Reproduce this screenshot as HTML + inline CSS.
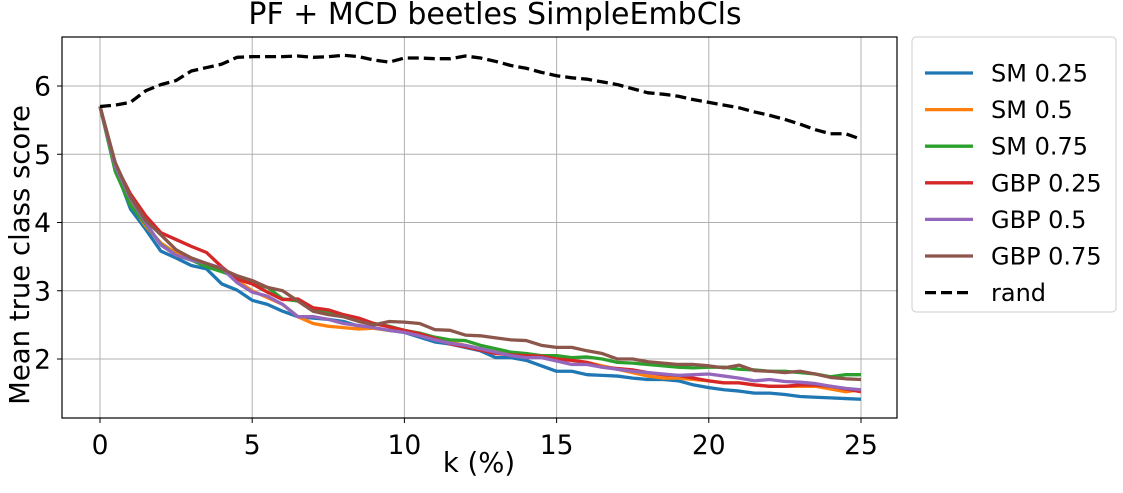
<!DOCTYPE html>
<html><head><meta charset="utf-8"><style>
body{margin:0;background:#fff;width:1123px;height:488px;overflow:hidden}
svg text{font-family:"DejaVu Sans","Liberation Sans",sans-serif;fill:#000}
</style></head><body>
<svg id="c" width="1123" height="488"></svg>
<script>
const ks=[];for(let i=0;i<=50;i++)ks.push(i*0.5);
const seriesNames=["SM 0.25","SM 0.5","SM 0.75","GBP 0.25","GBP 0.5","GBP 0.75","rand"];
const colors=["#1f77b4","#ff7f0e","#2ca02c","#d62728","#9467bd","#8c564b","#000"];
const sm025=[5.7,4.8,4.2,3.9,3.58,3.48,3.37,3.32,3.1,3.01,2.86,2.8,2.7,2.62,2.6,2.58,2.55,2.48,2.45,2.42,2.39,2.32,2.25,2.22,2.17,2.12,2.02,2.02,1.98,1.9,1.82,1.82,1.77,1.76,1.75,1.72,1.7,1.7,1.68,1.62,1.58,1.55,1.53,1.5,1.5,1.48,1.45,1.44,1.43,1.42,1.41];
const sm05=[5.7,4.82,4.28,3.95,3.7,3.55,3.45,3.38,3.32,3.15,3.0,2.9,2.8,2.62,2.52,2.48,2.46,2.44,2.45,2.42,2.4,2.35,2.3,2.25,2.2,2.15,2.1,2.08,2.05,2.02,2.0,1.98,1.95,1.9,1.85,1.8,1.75,1.72,1.72,1.7,1.68,1.65,1.65,1.62,1.6,1.6,1.6,1.6,1.56,1.52,1.55];
const sm075=[5.7,4.75,4.25,3.98,3.68,3.52,3.45,3.35,3.28,3.2,3.1,3.05,2.88,2.85,2.72,2.68,2.62,2.56,2.52,2.48,2.42,2.38,2.32,2.28,2.27,2.2,2.15,2.1,2.08,2.05,2.05,2.02,2.03,2.0,1.95,1.94,1.92,1.9,1.88,1.87,1.88,1.88,1.85,1.84,1.82,1.82,1.8,1.78,1.74,1.77,1.77];
const gbp025=[5.7,4.85,4.42,4.1,3.85,3.75,3.65,3.56,3.35,3.17,3.1,2.98,2.87,2.88,2.75,2.72,2.65,2.6,2.52,2.47,2.42,2.37,2.3,2.22,2.18,2.13,2.08,2.06,2.05,2.04,2.0,1.98,1.95,1.88,1.86,1.84,1.8,1.77,1.76,1.72,1.68,1.65,1.65,1.62,1.6,1.6,1.62,1.62,1.6,1.56,1.52];
const gbp05=[5.7,4.83,4.35,4.0,3.67,3.52,3.45,3.4,3.33,3.12,2.98,2.92,2.8,2.62,2.62,2.58,2.52,2.49,2.46,2.42,2.39,2.34,2.28,2.23,2.2,2.15,2.1,2.05,2.02,2.02,1.97,1.92,1.92,1.88,1.85,1.82,1.8,1.78,1.76,1.77,1.78,1.75,1.72,1.68,1.7,1.67,1.66,1.64,1.6,1.57,1.55];
const gbp075=[5.7,4.88,4.38,4.03,3.82,3.6,3.48,3.4,3.32,3.22,3.15,3.05,3.0,2.85,2.7,2.65,2.62,2.55,2.5,2.55,2.54,2.52,2.43,2.42,2.35,2.34,2.31,2.28,2.27,2.2,2.17,2.17,2.12,2.08,2.0,2.0,1.96,1.94,1.92,1.92,1.9,1.87,1.91,1.83,1.82,1.8,1.82,1.78,1.73,1.71,1.7];
const rand=[5.7,5.72,5.76,5.93,6.02,6.08,6.22,6.27,6.32,6.42,6.43,6.43,6.43,6.44,6.42,6.43,6.45,6.43,6.38,6.35,6.41,6.41,6.4,6.4,6.44,6.41,6.36,6.3,6.26,6.2,6.15,6.12,6.1,6.06,6.02,5.96,5.9,5.88,5.85,5.8,5.76,5.72,5.68,5.62,5.57,5.51,5.44,5.36,5.3,5.3,5.22];
const allSeries=[sm025,sm05,sm075,gbp025,gbp05,gbp075,rand];
const xTicks=[0,5,10,15,20,25];
const yTicks=[2,3,4,5,6];
const L=62,R=897,T=37,B=418;
const X=v=>100+v*(861-100)/25;
const Y=v=>86+(6-v)*68.25;
const svg=document.getElementById('c');
const NS='http://www.w3.org/2000/svg';
function mk(t,a,p){const e=document.createElementNS(NS,t);for(const k in a)e.setAttribute(k,a[k]);(p||svg).appendChild(e);return e;}
xTicks.forEach(t=>{
 const g=mk('line',{x1:X(t),x2:X(t),y1:T,y2:B,stroke:'#b0b0b0','stroke-width':1});
 
 
 mk('line',{x1:X(t),x2:X(t),y1:B,y2:B+5,stroke:'#000'});
 const tx=mk('text',{x:X(t),y:B+36,'text-anchor':'middle','font-size':26.5});tx.textContent=t;
 
 
});
yTicks.forEach(t=>{
 const g=mk('line',{x1:L,x2:R,y1:Y(t),y2:Y(t),stroke:'#b0b0b0','stroke-width':1});
 
 
 mk('line',{x1:L-5,x2:L,y1:Y(t),y2:Y(t),stroke:'#000'});
 const tx=mk('text',{x:L-11,y:Y(t)+9.5,'text-anchor':'end','font-size':26.5});tx.textContent=t;
 
 
});
allSeries.forEach((s,i)=>{
 const p=mk('polyline',{points:s.map((v,j)=>X(ks[j])+','+Y(v)).join(' '),fill:'none',stroke:colors[i],'stroke-width':3.3,'stroke-linejoin':'round','stroke-dasharray':i==6?'11,5':'none'});
 
 
});
const fr=mk('rect',{x:L,y:T,width:R-L,height:B-T,fill:'none',stroke:'#000','stroke-width':1.2});


const lg=mk('rect',{x:912,y:37,width:204,height:275,rx:4,fill:'#fff',stroke:'#ccc'});


seriesNames.forEach((n,i)=>{
 const y=73+i*36.6;
 mk('line',{x1:925,x2:973,y1:y,y2:y,stroke:colors[i],'stroke-width':3.3,'stroke-dasharray':i==6?'11,5':'none'});
 const t=mk('text',{x:991,y:y+8.5,'font-size':24});t.textContent=n;
 
 
});
</script>
<div style="position:absolute;left:0;top:-3px;width:990px;text-align:center;font:30px 'DejaVu Sans','Liberation Sans',sans-serif">PF + MCD beetles SimpleEmbCls</div>
<div style="position:absolute;left:379px;top:447px;width:200px;text-align:center;font:27.5px 'DejaVu Sans','Liberation Sans',sans-serif">k (%)</div>
<div style="position:absolute;left:-180px;top:239px;width:400px;text-align:center;transform:rotate(-90deg);font:27.5px 'DejaVu Sans','Liberation Sans',sans-serif">Mean true class score</div>
</body></html>
